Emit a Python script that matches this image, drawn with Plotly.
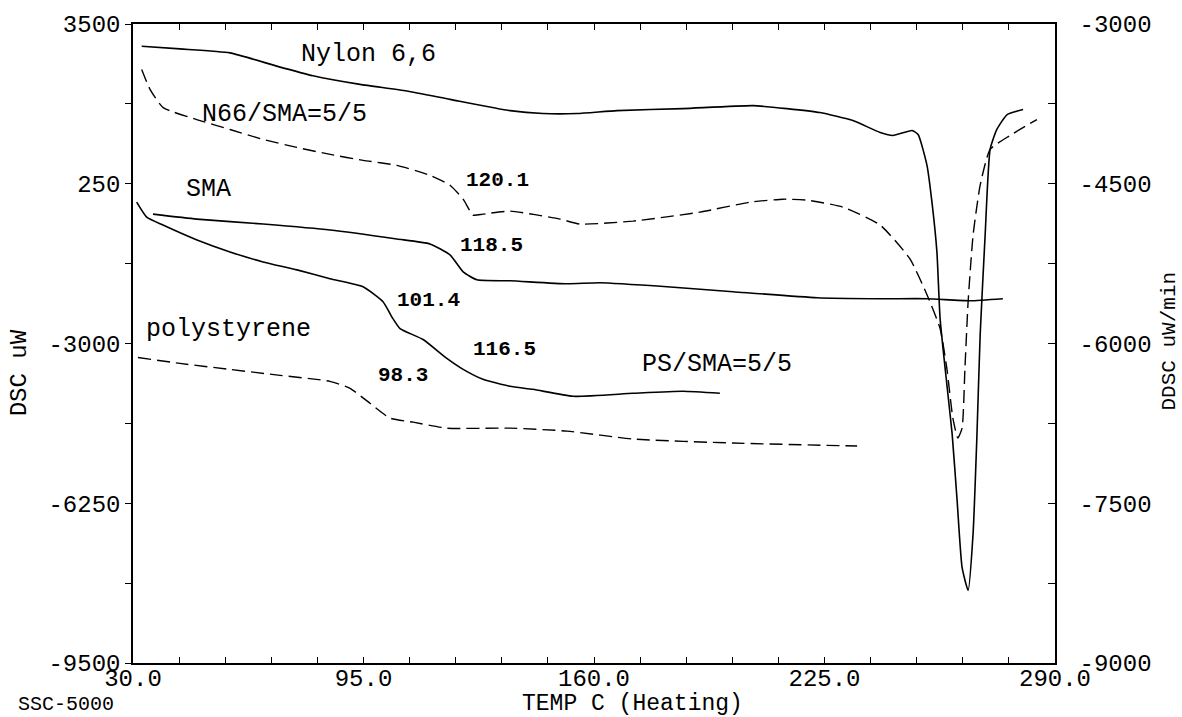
import plotly.graph_objects as go

# ---- data (temperature in C, DSC in uW) ----
nylon_t = [32.45, 43.25, 57.35, 70.52, 80.76, 94.01, 107.18, 119.4, 136.3, 145.6, 155.2, 166.5, 185.1,
           204.8, 214.4, 223.7, 233.0, 240.7, 244.3, 249.7, 251.4, 253.9, 255.3, 256.7, 257.6, 259.5,
           261.0, 262.4, 263.8, 265.5, 266.9, 268.0, 268.9, 270.3, 271.7, 273.6, 276.5, 281.0]
nylon_v = [3048, 2994, 2913, 2643, 2447, 2271, 2137, 1967, 1738, 1678, 1678, 1738, 1779,
           1840, 1779, 1698, 1536, 1293, 1232, 1333, 1252, 625, -125, -1137, -2494, -3831,
           -4843, -6200, -7557, -8022, -6868, -4843, -2818, -793, 949, 1354, 1657, 1759]

n66sma_t = [32.45, 34.8, 38.5, 48.0, 57.35, 66.7, 76.2, 85.6, 94.9, 104.4, 113.75, 119.4, 123.1, 125.9,
            128.7, 136.3, 150.4, 156.05, 171.0, 189.9, 204.0, 213.3, 220.1, 230.2, 240.7, 249.1, 253.9,
            257.6, 259.5, 261.2, 262.6, 263.8, 264.6, 265.5, 266.9, 268.9, 271.7, 277.3, 284.9]
n66sma_v = [2575, 2170, 1799, 1556, 1354, 1151, 989, 847, 726, 625, 422, 220, -64, -388,
            -368, -307, -469, -570, -510, -327, -125, -64, -84, -226, -590, -1279, -2008,
            -2697, -3507, -4519, -4924, -4722, -3507, -2150, -793, 220, 949, 1232, 1556]

sma_t = [35.64, 48.0, 66.7, 85.6, 104.4, 113.75, 119.4, 123.1, 127.0, 136.3, 152.4, 161.7, 180.6,
         199.2, 222.9, 240.7, 253.9, 266.0, 275.3]
sma_v = [-368, -469, -570, -692, -874, -975, -1198, -1542, -1704, -1724, -1785, -1765, -1846,
         -1947, -2069, -2089, -2089, -2130, -2089]

pssma_t = [31.04, 33.86, 38.46, 48.05, 57.35, 66.66, 76.25, 85.55, 94.86, 100.5, 103.3, 105.3, 111.8,
           118.5, 123.1, 128.7, 136.3, 142.8, 154.1, 171.0, 185.1, 195.5]
pssma_v = [-125, -429, -590, -894, -1137, -1340, -1502, -1684, -1846, -2150, -2494, -2697, -2919,
           -3304, -3527, -3729, -3871, -3932, -4074, -4013, -3972, -4013]

ps_t = [31.4, 43.25, 57.35, 71.45, 85.55, 91.2, 96.8, 102.5, 109.0, 118.5, 136.3, 152.4, 171.0, 199.2, 234.2]
ps_v = [-3284, -3405, -3527, -3648, -3770, -3912, -4215, -4519, -4600, -4722, -4722, -4782, -4944, -5025, -5086]

# curve labels
label_text = ["Nylon 6,6", "N66/SMA=5/5", "SMA", "polystyrene", "PS/SMA=5/5"]
label_t = [96.3, 72.6, 51.15, 56.8, 194.7]
label_v = [2872, 1657, 139, -2717, -3426]

# transition temperatures
tg_text = ["120.1", "118.5", "101.4", "116.5", "98.3"]
tg_t = [132.9, 131.0, 113.2, 134.9, 106.1]
tg_v = [321, -996, -2130, -3122, -3648]

# axes
x_ticks = [30, 95, 160, 225, 290]
x_ticktext = ["30.0", "95.0", "160.0", "225.0", "290.0"]
y_ticks = [3500, 250, -3000, -6250, -9500]
y_ticktext = ["3500", "250", "-3000", "-6250", "-9500"]
y2_ticks = [-3000, -4500, -6000, -7500, -9000]
y2_ticktext = ["-3000", "-4500", "-6000", "-7500", "-9000"]

MONO = "Liberation Mono"
fig = go.Figure()

solid = dict(color="black", width=1.6)
dashed = dict(color="black", width=1.4, dash="13px,6px")

fig.add_trace(go.Scatter(x=nylon_t, y=nylon_v, mode="lines", line=dict(**solid, shape="spline", smoothing=0.5)))
fig.add_trace(go.Scatter(x=n66sma_t, y=n66sma_v, mode="lines", line=dict(**dashed, shape="spline", smoothing=0.5)))
fig.add_trace(go.Scatter(x=sma_t, y=sma_v, mode="lines", line=dict(**solid, shape="spline", smoothing=0.5)))
fig.add_trace(go.Scatter(x=pssma_t, y=pssma_v, mode="lines", line=dict(**solid, shape="spline", smoothing=0.5)))
fig.add_trace(go.Scatter(x=ps_t, y=ps_v, mode="lines", line=dict(**dashed, shape="spline", smoothing=0.5)))
# empty trace so that the right-hand DDSC axis is drawn
fig.add_trace(go.Scatter(x=[], y=[], yaxis="y2", mode="lines", hoverinfo="skip"))

for t, x, y in zip(label_text, label_t, label_v):
    fig.add_annotation(x=x, y=y, text=t, showarrow=False, xanchor="center", yanchor="middle",
                       font=dict(family=MONO, size=25, color="black"))
for t, x, y in zip(tg_text, tg_t, tg_v):
    fig.add_annotation(x=x, y=y, text=t, showarrow=False, xanchor="center", yanchor="middle",
                       font=dict(family=MONO, size=21, color="black", weight="bold"))

# axis titles and footer text
fig.add_annotation(xref="paper", yref="paper", x=(632 - 133) / 922, y=(663 - 704) / 642,
                   text="TEMP C (Heating)", showarrow=False, xanchor="center", yanchor="middle",
                   font=dict(family=MONO, size=23, color="black"))
fig.add_annotation(xref="paper", yref="paper", x=(19 - 133) / 922, y=(663 - 372) / 642,
                   text="DSC uW", showarrow=False, textangle=-90, xanchor="center", yanchor="middle",
                   font=dict(family=MONO, size=24, color="black"))
fig.add_annotation(xref="paper", yref="paper", x=(1170 - 133) / 922, y=(663 - 340) / 642,
                   text="DDSC uW/min", showarrow=False, textangle=-90, xanchor="center", yanchor="middle",
                   font=dict(family=MONO, size=21, color="black"))
fig.add_annotation(xref="paper", yref="paper", x=(66 - 133) / 922, y=(663 - 705) / 642,
                   text="SSC-5000", showarrow=False, xanchor="center", yanchor="middle",
                   font=dict(family=MONO, size=20, color="black"))

tickfont = dict(family=MONO, size=24, color="black")
fig.update_layout(
    width=1182, height=717,
    margin=dict(l=133, r=127, t=21, b=54),
    paper_bgcolor="white", plot_bgcolor="white",
    showlegend=False,
    xaxis=dict(range=[30, 290], tickvals=x_ticks, ticktext=x_ticktext, tickfont=tickfont,
               showgrid=False, zeroline=False, showline=True, linecolor="black", linewidth=1.5,
               mirror="allticks", ticks="inside", ticklen=6, tickcolor="black",
               minor=dict(tickmode="linear", tick0=30, dtick=13, ticks="inside", ticklen=6, tickcolor="black"),
               ticklabelstandoff=-8),
    yaxis=dict(range=[-9500, 3500], tickvals=y_ticks, ticktext=y_ticktext, tickfont=tickfont,
               showgrid=False, zeroline=False, showline=True, linecolor="black", linewidth=1.5,
               ticks="outside", ticklen=6, tickcolor="black",
               minor=dict(tickmode="linear", tick0=-9500, dtick=1625, ticks="outside", ticklen=6, tickcolor="black")),
    yaxis2=dict(range=[-9000, -3000], overlaying="y", side="right", anchor="x",
                tickvals=y2_ticks, ticktext=y2_ticktext, tickfont=tickfont,
                showgrid=False, zeroline=False, showline=True, linecolor="black", linewidth=1.5,
                ticks="inside", ticklen=7, tickcolor="black", ticklabelstandoff=18,
                minor=dict(tickmode="linear", tick0=-9000, dtick=750, ticks="inside", ticklen=7, tickcolor="black")),
)

fig.write_html("out.html")
